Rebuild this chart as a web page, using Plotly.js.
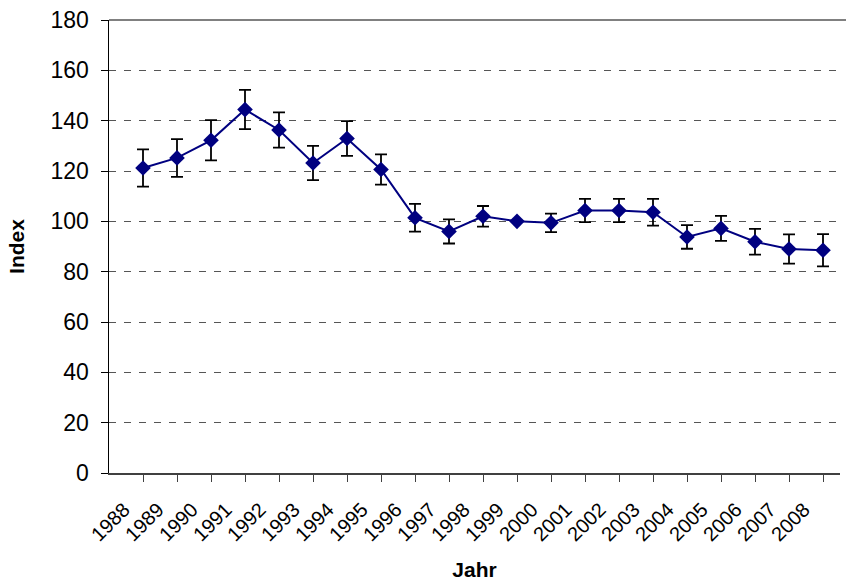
<!DOCTYPE html>
<html>
<head>
<meta charset="utf-8">
<script src="https://cdn.plot.ly/plotly-3.0.1.min.js"></script>
<style>html,body{margin:0;padding:0;background:#fff;}#chart{width:846px;height:581px;}</style>
</head>
<body>
<div id="chart"></div>
<script>
const years = ["1988","1989","1990","1991","1992","1993","1994","1995","1996","1997","1998","1999","2000","2001","2002","2003","2004","2005","2006","2007","2008"];
const indexValues = [121.2,125.2,132.2,144.4,136.3,123.2,132.9,120.6,101.4,96.0,102.0,100.0,99.4,104.3,104.3,103.6,93.8,97.2,91.9,89.0,88.5];
const errorValues = [7.4,7.5,8.0,7.8,7.0,6.8,6.9,6.0,5.5,4.8,4.1,0,3.7,4.6,4.6,5.3,4.7,5.0,5.1,5.8,6.4];
const yTicks = [0,20,40,60,80,100,120,140,160,180];

const trace = {
  x: years,
  y: indexValues,
  type: "scatter",
  mode: "lines+markers",
  line: {color: "#000080", width: 2},
  marker: {symbol: "diamond", size: 12, color: "#000080"},
  error_y: {type: "data", array: errorValues, visible: true, color: "#000000", thickness: 1.8, width: 6},
  hoverinfo: "x+y"
};

const layout = {
  width: 846, height: 581,
  margin: {l: 109, r: 6, t: 20, b: 108},
  paper_bgcolor: "#ffffff",
  plot_bgcolor: "#ffffff",
  font: {family: "Liberation Sans, Arial, sans-serif", color: "#000000"},
  showlegend: false,
  xaxis: {
    type: "category",
    range: [-1, 20.5],
    showgrid: false,
    zeroline: false,
    showline: true, linecolor: "#404040", linewidth: 2,
    ticks: "outside", ticklen: 7, tickcolor: "#404040", tickwidth: 1,
    tickangle: -45,
    ticklabelshift: -19,
    ticklabelstandoff: 8,
    tickfont: {size: 20, color: "#000000"},
    title: {text: "Jahr", font: {size: 21, color: "#000000", weight: "bold"}, standoff: 18}
  },
  yaxis: {
    range: [0, 180],
    tickvals: yTicks,
    ticktext: yTicks.map(String),
    showgrid: true, gridcolor: "#555555", griddash: "7px,8px", gridwidth: 1,
    zeroline: false,
    showline: true, linecolor: "#000000", linewidth: 1.5,
    ticks: "outside", ticklen: 7, tickcolor: "#000000", tickwidth: 1,
    ticklabelstandoff: 7,
    tickfont: {size: 23, color: "#000000"},
    title: {text: "Index", font: {size: 21, color: "#000000", weight: "bold"}, standoff: 20}
  },
  shapes: [{type: "line", xref: "paper", yref: "paper", x0: 0, x1: 1.01, y0: 1, y1: 1, line: {color: "#808080", width: 2}}]
};

Plotly.newPlot("chart", [trace], layout, {displayModeBar: false, staticPlot: true});
</script>
</body>
</html>
